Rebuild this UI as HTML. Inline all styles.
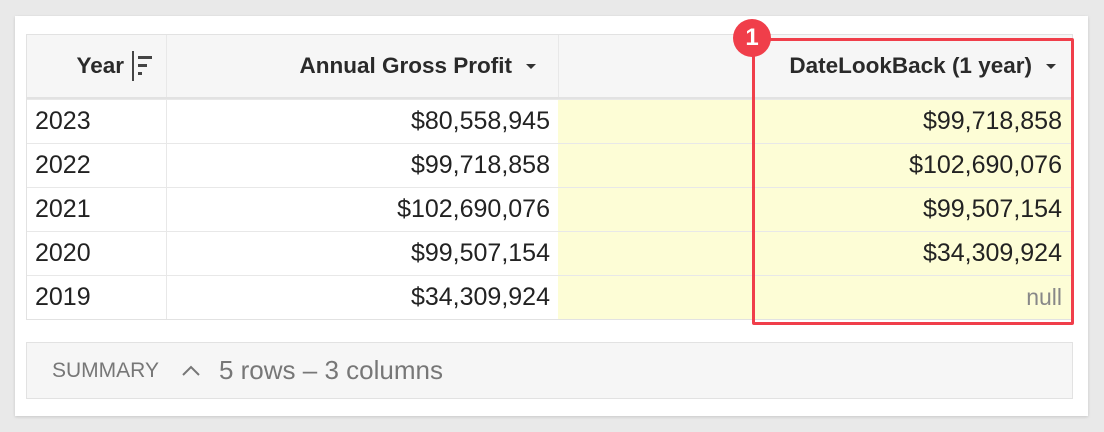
<!DOCTYPE html>
<html><head><meta charset="utf-8"><style>
*{box-sizing:border-box;margin:0;padding:0}
body{width:1104px;height:432px;background:#e9e9e9;font-family:"Liberation Sans",sans-serif;position:relative;overflow:hidden}
.card{position:absolute;left:15px;top:16px;width:1073px;height:400px;background:#fff;box-shadow:0 1px 3px rgba(0,0,0,.15)}
.tbl{position:absolute;left:26px;top:34px;width:1047px;border:1px solid #e2e2e2}
.row{display:flex;height:44px;border-top:1px solid #e8e8e8;font-size:25px;color:#222;align-items:center}
.hdr{height:64px;background:#f6f6f6;border-top:none;border-bottom:2px solid #e2e2e2;font-weight:bold;font-size:22.5px;color:#2a2a2a}
.c1{width:140px;padding-left:8px;border-right:1px solid #e8e8e8;height:100%;display:flex;align-items:center}
.c2{width:391px;text-align:right;padding-right:8px;height:100%;display:flex;align-items:center;justify-content:flex-end}
.c3{width:195px;height:100%;background:#fdfdd6}
.c4{flex:1;height:100%;display:flex;align-items:center;justify-content:flex-end;padding-right:10px;background:#fdfdd6}
.hdr .c3,.hdr .c4{background:#f6f6f6}
.hdr .c3{border-left:1px solid #e8e8e8}
.hdr .c1{justify-content:flex-end;padding-right:10px}
.tri{display:inline-block;width:0;height:0;border-left:5px solid transparent;border-right:5px solid transparent;border-top:5px solid #333;margin-left:14px;margin-right:14px}
.red{position:absolute;left:752px;top:38px;width:322px;height:287px;border:3px solid #f03e4a;border-radius:2px}
.badge{position:absolute;left:733px;top:19px;width:38px;height:38px;border-radius:50%;background:#f03e4a;color:#fff;font-weight:bold;font-size:24px;text-align:center;line-height:38px}
.sum{position:absolute;left:26px;top:342px;width:1047px;height:57px;background:#f6f6f6;border:1px solid #e2e2e2;color:#777;display:flex;align-items:center;padding-left:25px}
</style></head><body>
<div class="card"></div>
<div class="tbl">
 <div class="row hdr">
  <div class="c1">Year<span style="display:inline-block;margin-left:8px;width:24px;height:30px;position:relative"><span style="position:absolute;left:0;top:0;width:2px;height:30px;background:#444"></span><span style="position:absolute;left:6px;top:5px;width:14px;height:3px;background:#444"></span><span style="position:absolute;left:6px;top:13px;width:9px;height:3px;background:#444"></span><span style="position:absolute;left:6px;top:21px;width:4px;height:3px;background:#444"></span></span></div>
  <div class="c2">Annual Gross Profit<span class="tri"></span></div>
  <div class="c3"></div>
  <div class="c4">DateLookBack (1 year)<span class="tri" style="margin-right:6px"></span></div>
 </div>
 <div class="row"><div class="c1">2023</div><div class="c2">$80,558,945</div><div class="c3"></div><div class="c4">$99,718,858</div></div>
 <div class="row"><div class="c1">2022</div><div class="c2">$99,718,858</div><div class="c3"></div><div class="c4">$102,690,076</div></div>
 <div class="row"><div class="c1">2021</div><div class="c2">$102,690,076</div><div class="c3"></div><div class="c4">$99,507,154</div></div>
 <div class="row"><div class="c1">2020</div><div class="c2">$99,507,154</div><div class="c3"></div><div class="c4">$34,309,924</div></div>
 <div class="row"><div class="c1">2019</div><div class="c2">$34,309,924</div><div class="c3"></div><div class="c4" style="color:#888;font-size:23px">null</div></div>
</div>
<div class="red"></div>
<div class="badge">1</div>
<div class="sum"><span style="font-size:21px">SUMMARY</span><svg width="20" height="12" style="margin:0 18px 0 22px"><polyline points="2,10 10,2 18,10" fill="none" stroke="#777" stroke-width="2"/></svg><span style="font-size:26px">5 rows – 3 columns</span></div>
</body></html>
